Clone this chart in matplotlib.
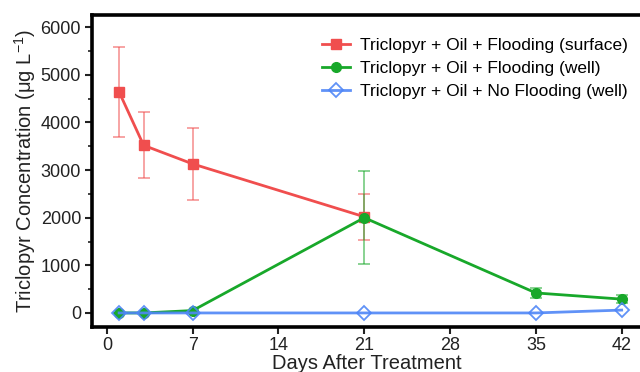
import matplotlib
matplotlib.use("Agg")
import matplotlib.pyplot as plt
from matplotlib.ticker import MultipleLocator

plt.rcParams['font.family'] = ['Liberation Sans', 'DejaVu Sans']

# data
days_surface = [1, 3, 7, 21]
surface = [4640, 3520, 3130, 2020]
surface_err = [940, 690, 750, 480]

days_well = [1, 3, 7, 21, 35, 42]
flood_well = [0, 0, 50, 2000, 420, 290]
flood_well_err = [0, 0, 0, 980, 110, 80]

noflood_well = [0, 0, 0, 0, 0, 60]

labels = ["Triclopyr + Oil + Flooding (surface)",
          "Triclopyr + Oil + Flooding (well)",
          "Triclopyr + Oil + No Flooding (well)"]
red = "#F04E4E"
green = "#18A82A"
blue = "#4F86F7"

fig = plt.figure(figsize=(6.4, 3.72), dpi=100)
ax = fig.add_axes([0.144, 0.121, 0.858, 0.839])

# error bars first, lighter
ax.errorbar(days_surface, surface, yerr=surface_err, fmt='none', ecolor=red,
            alpha=0.6, elinewidth=1.2, capsize=4, capthick=1.2)
ax.errorbar(days_well, flood_well, yerr=flood_well_err, fmt='none', ecolor=green,
            alpha=0.6, elinewidth=1.2, capsize=4, capthick=1.2)

ax.plot(days_surface, surface, color=red, lw=2, marker='s', ms=7, label=labels[0])
ax.plot(days_well, flood_well, color=green, lw=2, marker='o', ms=7, label=labels[1])
ax.plot(days_well, noflood_well, color=blue, lw=2, marker='D', ms=7,
        mfc='none', mew=1.3, label=labels[2], alpha=0.9)

ax.set_xlim(-1.2, 43.6)
ax.set_ylim(-295, 6260)
ax.set_xticks([0, 7, 14, 21, 28, 35, 42])
ax.set_yticks([0, 1000, 2000, 3000, 4000, 5000, 6000])
ax.yaxis.set_minor_locator(MultipleLocator(500))

for s in ax.spines.values():
    s.set_linewidth(2.6)
ax.spines['right'].set_visible(False)
ax.tick_params(axis='both', which='major', labelsize=13, width=1.5, length=5, colors='#222222')
ax.tick_params(axis='y', which='minor', width=1.2, length=3, color='#222222')
ax.tick_params(axis='x', pad=2)
ax.tick_params(axis='y', pad=3)

ax.set_xlabel("Days After Treatment", fontsize=14.5, labelpad=0, color='#222222')
ax.set_ylabel(r"Triclopyr Concentration ($\mathregular{\mu}$g L$^{\mathregular{-1}}$)",
              fontsize=14.5, labelpad=2, color='#222222')

ax.legend(loc='upper right', frameon=False, fontsize=12.5, handlelength=1.6,
          handletextpad=0.6, labelspacing=0.46, borderaxespad=0.3,
          bbox_to_anchor=(0.998, 0.965))

fig.savefig("out.png", dpi=100)
